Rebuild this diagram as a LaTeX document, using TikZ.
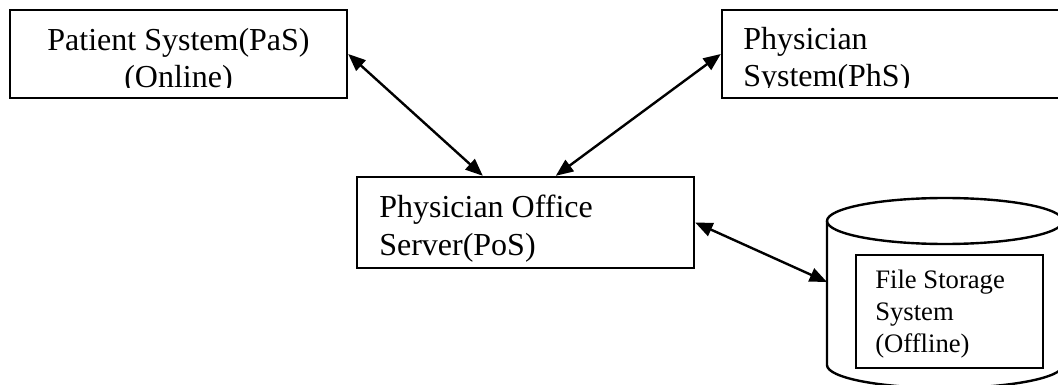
\documentclass[tikz,border=0pt]{standalone}
\usepackage{fontspec}
\setmainfont{Liberation Serif}
\usetikzlibrary{arrows.meta}
\begin{document}
\begin{tikzpicture}[x=0.75pt,y=-0.75pt,
  box/.style={draw=black,line width=1.8pt,rectangle,inner sep=0pt},
  hidden/.style={rectangle,inner sep=0pt,outer sep=0pt},
  label/.style={inner sep=0pt,font=\fontsize{24}{28}\selectfont},
  small/.style={inner sep=0pt,font=\fontsize{20}{24}\selectfont},
  link/.style={line width=1.8pt,{Triangle[length=13pt,width=10.5pt]}-{Triangle[length=13pt,width=10.5pt]}}]
\useasboundingbox (0,0) rectangle (1058,385);
\clip (0,0) rectangle (1058,385);

% system boxes
\node[box,minimum width=252.75pt,minimum height=66pt] (pas) at (178.5,54) {};
\node[box,minimum width=261pt,minimum height=66pt] (phs) at (896,54) {};
\node[box,minimum width=252.75pt,minimum height=68.25pt] (pos) at (525.5,222.5) {};

% storage cylinder
\draw[line width=1.8pt] (945,221) ellipse [x radius=118, y radius=23];
\draw[line width=1.8pt] (827,221) -- (827,365)
  arc[start angle=180, end angle=0, x radius=118, y radius=23] -- (1063,221);
\node[hidden,minimum width=177pt,minimum height=108pt] (store) at (945,293) {};
\node[box,minimum width=140.25pt,minimum height=84.75pt] (fss) at (949.5,311.5) {};

% box texts, cut off by the text frame
\begin{scope}
  \clip (10,10) rectangle (347,87.5);
  \node[label,anchor=base] (pas1) at (178.5,51) {Patient System(PaS)};
  \node[label,anchor=base] (pas2) at (178.5,88) {(Online)};
\end{scope}
\begin{scope}
  \clip (722,10) rectangle (1058,87.5);
  \node[label,anchor=base west] (phs1) at (743,50) {Physician};
  \node[label,anchor=base west] (phs2) at (743,87) {System(PhS)};
\end{scope}
\node[label,anchor=base west] (pos1) at (379,217) {Physician Office};
\node[label,anchor=base west] (pos2) at (379,255) {Server(PoS)};
\node[small,anchor=base west] (fss1) at (875,288) {File Storage};
\node[small,anchor=base west] (fss2) at (875,320) {System};
\node[small,anchor=base west] (fss3) at (875,352) {(Offline)};

% connections
\draw[link] (pas.east) -- ([xshift=95.25pt]pos.north west);
\draw[link] (phs.west) -- ([xshift=150pt]pos.north west);
\draw[link] (pos.east) -- ([yshift=8.25pt]store.west);
\end{tikzpicture}
\end{document}
